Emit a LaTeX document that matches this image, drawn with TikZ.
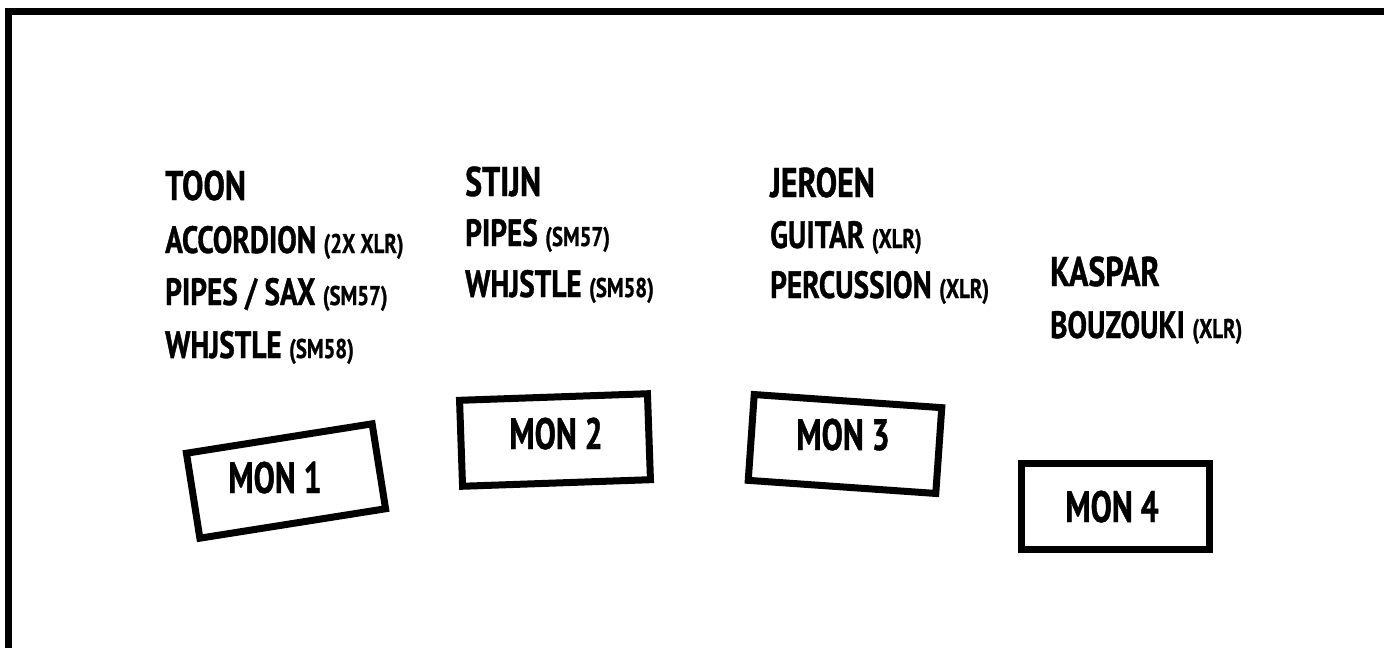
\documentclass[tikz,border=0pt]{standalone}
\usepackage{fontspec}
\setmainfont{PT Sans}[FakeStretch=0.77,FakeBold=0.9]
\newfontfamily\monfont{PT Sans}[FakeStretch=0.72,FakeBold=0.9]
\begin{document}
\begin{tikzpicture}[x=1pt,y=-1pt,
  frame/.style={line width=7pt,line cap=butt,line join=miter},
  monbox/.style={draw,line width=7pt,minimum width=188pt,minimum height=86pt,inner sep=0pt},
  montext/.style={anchor=base,inner sep=0pt,font=\monfont\fontsize{44}{44}\selectfont\bfseries},
  title/.style={anchor=base west,inner sep=0pt,font=\fontsize{41.5}{41.5}\selectfont\bfseries},
  item/.style={anchor=base west,inner sep=0pt,font=\fontsize{38}{38}\selectfont\bfseries}]
\newcommand\sm[1]{{\fontsize{27}{27}\selectfont #1}}
\useasboundingbox (0,0) rectangle (1384,648);
\coordinate (fr1) at (1384,11.5);
\coordinate (fr2) at (8.5,11.5);
\coordinate (fr3) at (8.5,648);
\draw[frame] (fr1) -- (fr2) -- (fr3);
% Toon
\node[title] (toon) at (165,200) {TOON};
\node[item] (toon1) at (165,253) {ACCORDION \sm{(2X XLR)}};
\node[item] (toon2) at (165,305) {PIPES / SAX \sm{(SM57)}};
\node[item] (toon3) at (165,358) {WHJSTLE \sm{(SM58)}};
% Stijn
\node[title] (stijn) at (465,196) {STIJN};
\node[item] (stijn1) at (465,246) {PIPES \sm{(SM57)}};
\node[item] (stijn2) at (465,297) {WHJSTLE \sm{(SM58)}};
% Jeroen
\node[title] (jeroen) at (770,197) {JEROEN};
\node[item] (jeroen1) at (770,248) {GUITAR \sm{(XLR)}};
\node[item] (jeroen2) at (770,298) {PERCUSSION \sm{(XLR)}};
% Kaspar
\node[title] (kaspar) at (1050,286) {KASPAR};
\node[item] (kaspar1) at (1050,338) {BOUZOUKI \sm{(XLR)}};
% monitors
\node[monbox,rotate=9] (mon1) at (286,481) {};
\node[montext] (mon1t) at (275,493) {MON 1};
\node[monbox,rotate=2] (mon2) at (555,440) {};
\node[montext] (mon2t) at (556,449) {MON 2};
\node[monbox,rotate=-4] (mon3) at (845,444) {};
\node[montext] (mon3t) at (843,450) {MON 3};
\node[monbox] (mon4) at (1115,506) {};
\node[montext] (mon4t) at (1112,522) {MON 4};
\end{tikzpicture}
\end{document}
